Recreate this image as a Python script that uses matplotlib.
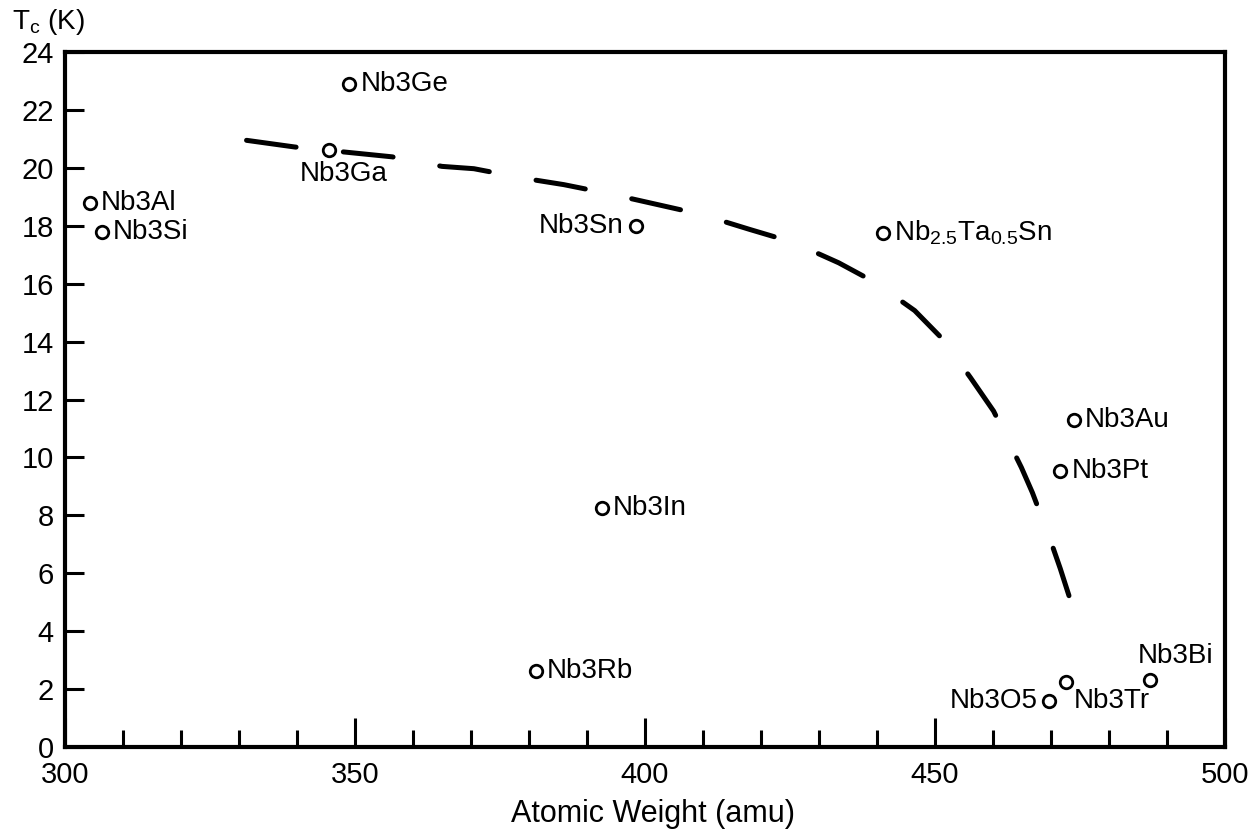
import matplotlib
matplotlib.use("Agg")
from matplotlib import pyplot as plt

FONT = ['Liberation Sans', 'DejaVu Sans']
plt.rcParams['font.family'] = FONT
plt.rcParams['mathtext.fontset'] = 'custom'
plt.rcParams['mathtext.rm'] = 'Liberation Sans'
plt.rcParams['mathtext.it'] = 'Liberation Sans'

# compounds: atomic weight (amu) vs Tc (K)
names = ['Nb3Ge', 'Nb3Ga', 'Nb3Al', 'Nb3Si', 'Nb3Sn', 'Nb$_{2.5}$Ta$_{0.5}$Sn',
         'Nb3Au', 'Nb3Pt', 'Nb3In', 'Nb3Rb', 'Nb3O5', 'Nb3Tr', 'Nb3Bi']
weights = [349.0, 345.6, 304.3, 306.4, 398.4, 441.0,
           473.9, 471.6, 392.5, 381.2, 469.6, 472.5, 487.1]
tc = [22.9, 20.6, 18.8, 17.8, 18.0, 17.75,
      11.3, 9.53, 8.26, 2.62, 1.58, 2.25, 2.32]

# dashed trend curve
curve_x = [331.3, 339.6, 356.4, 365.0, 370.5, 379.1, 386.0, 394.2, 409.5, 418.1,
           425.5, 433.4, 439.6, 446.5, 451.3, 456.1, 460.1, 464.9, 466.8, 469.9,
           471.6, 474.5]
curve_y = [20.95, 20.72, 20.38, 20.05, 19.97, 19.64, 19.42, 19.09, 18.40, 17.87,
           17.43, 16.72, 16.05, 15.07, 14.09, 12.76, 11.60, 9.65, 8.78, 7.14,
           6.16, 4.35]

x_major = [300, 350, 400, 450, 500]
x_minor = [x for x in range(300, 501, 10) if x % 50]
y_ticks = list(range(0, 25, 2))

# label placement (offset in points, alignment) per compound
place = {
    'Nb3Ga': ((10, -17), 'center', 'center'),
    'Nb3Sn': ((-9, 0), 'right', 'center'),
    'Nb3O5': ((-8, 0), 'right', 'center'),
    'Nb3Tr': ((6, -14), 'left', 'center'),
    'Nb3Bi': ((18, 17), 'center', 'center'),
}

fig = plt.figure(figsize=(12.55, 8.3), dpi=100)
ax = fig.add_axes([65 / 1255, 83 / 830, 1160 / 1255, 695 / 830])

ax.plot(curve_x, curve_y, color='black', lw=3.6, dashes=(10, 9.5),
        dash_capstyle='round')
ax.plot(weights, tc, 'o', ls='none', mfc='white', mec='black', ms=9, mew=2)

for name, x, y in zip(names, weights, tc):
    off, ha, va = place.get(name, ((8, 0), 'left', 'center'))
    ax.annotate(name, (x, y), xytext=off, textcoords='offset points',
                ha=ha, va=va, fontsize=20)

ax.set_xlim(300, 500)
ax.set_ylim(0, 24)
ax.set_xticks(x_major)
ax.set_xticks(x_minor, minor=True)
ax.set_yticks(y_ticks)
ax.tick_params(axis='x', which='major', direction='in', length=21, width=2.2,
               labelsize=21, pad=10)
ax.tick_params(axis='x', which='minor', direction='in', length=12, width=2.2)
ax.tick_params(axis='y', direction='in', length=14, width=2.2, labelsize=21, pad=8)
for s in ax.spines.values():
    s.set_linewidth(3)

ax.set_xlabel('Atomic Weight (amu)', fontsize=22, labelpad=4)
ax.xaxis.set_label_coords(0.507, -0.075)
fig.text(12 / 1255, 1 - 22 / 830, 'T$_c$ (K)', fontsize=20, va='center', ha='left')

fig.savefig('out.png', dpi=100)
